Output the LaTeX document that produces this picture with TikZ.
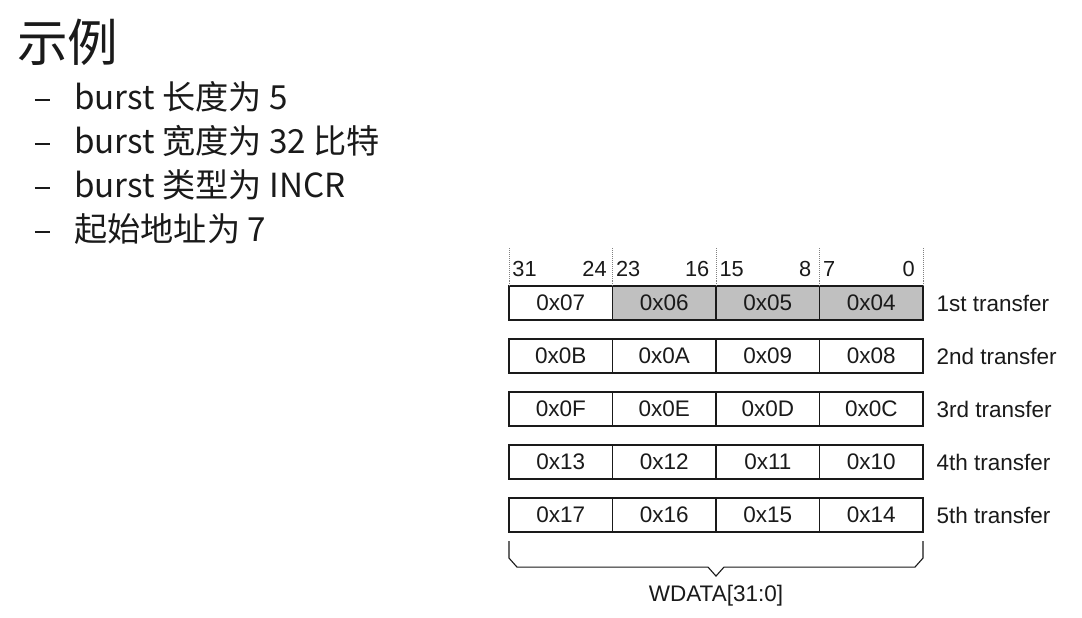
\documentclass[tikz,border=0pt]{standalone}
\usepackage{fontspec}
\setmainfont{Liberation Sans}
\newfontfamily\cjk{Noto Sans CJK SC}
\usetikzlibrary{positioning}
\definecolor{grau}{HTML}{C0C0C0}
\definecolor{tinte}{HTML}{1A1A1A}

\begin{document}
\begin{tikzpicture}[x=0.025cm, y=-0.025cm, text=tinte,
  cell/.style={draw=tinte, line width=0.9pt, outer sep=0pt, minimum width=2.5875cm, minimum height=0.85cm, inner sep=0pt, font=\fontsize{16}{19}\selectfont},
  hit/.style={cell, fill=grau},
  lbl/.style={inner sep=0pt, font=\fontsize{16}{19}\selectfont},
  bit/.style={inner sep=0pt, font=\fontsize{15.5}{18}\selectfont},
  item/.style={anchor=west, inner sep=0pt, font=\cjk\fontsize{23.6}{28}\selectfont},
  bul/.style={inner sep=0pt}]
  \fill[white] (0,0) rectangle (1082,617);
  \useasboundingbox (0,0) rectangle (1082,617);
  % title and bullet list
  \node[anchor=west, inner sep=0pt, font=\cjk\fontsize{36}{40}\selectfont] (title) at (17,42) {示例};
  \node[item] (i1) at (74,97) {burst 长度为 5};
  \node[item] (i2) at (74,141) {burst 宽度为 32 比特};
  \node[item] (i3) at (74,185) {burst 类型为 INCR};
  \node[item] (i4) at (74,229) {起始地址为 7};
  \foreach \i in {1,...,4}
    \node[bul, left=0.6cm of i\i, yshift=-2pt] (d\i) {\rule{0.37cm}{1pt}};
  % first transfer
  \node[cell] (b1a) at (560.75,303) {0x07};
  \node[hit, right=0pt of b1a] (b1b) {0x06};
  \node[hit, right=0pt of b1b] (b1c) {0x05};
  \node[hit, right=0pt of b1c] (b1d) {0x04};
  \node[lbl, right=0.33cm of b1d] (t1) {1st transfer};
  % remaining transfers
  \foreach \r/\p/\a/\b/\c/\d/\n in {2/1/0B/0A/09/08/2nd, 3/2/0F/0E/0D/0C/3rd,
      4/3/13/12/11/10/4th, 5/4/17/16/15/14/5th} {
    \node[cell, below=0.475cm of b\p a] (b\r a) {0x\a};
    \node[cell, right=0pt of b\r a] (b\r b) {0x\b};
    \node[cell, right=0pt of b\r b] (b\r c) {0x\c};
    \node[cell, right=0pt of b\r c] (b\r d) {0x\d};
    \node[lbl, right=0.33cm of b\r d] (t\r) {\n\ transfer};
  }
  % byte lanes
  \foreach \k/\hi/\lo/\dr in {a/31/24/0.14cm, b/23/16/0.16cm, c/15/8/0.2cm, d/7/0/0.2cm} {
    \draw[densely dotted, gray] (b1\k.north west) -- ++(0,-38);
    \node[bit, above right=0.225cm and 0.08cm of b1\k.north west] (h\k) {\hi};
    \node[bit, above left=0.225cm and \dr of b1\k.north east] (l\k) {\lo};
  }
  \draw[densely dotted, gray] (b1d.north east) -- ++(0,-38);
  % brace
  \draw[tinte, line width=0.8pt] (b5a.south west) ++(0,9) -- ++(0,17) -- ++(8,9)
    -- ++(191,0) -- ++(8,9) coordinate (tip) -- ++(8,-9) -- ++(191,0) -- ++(8,-9) -- ++(0,-17);
  \node[lbl, below=0.22cm of tip] (wdata) {WDATA[31:0]};
\end{tikzpicture}
\end{document}
